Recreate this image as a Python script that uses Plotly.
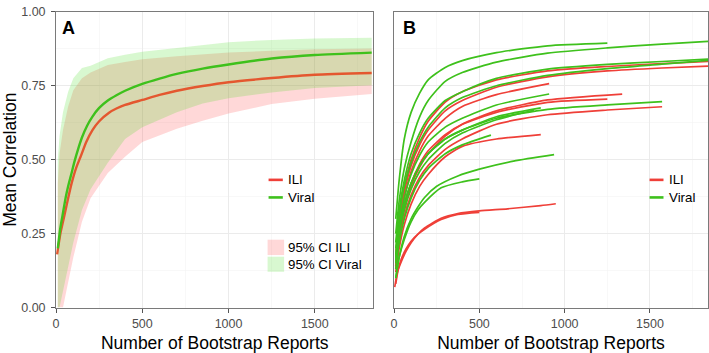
import plotly.graph_objects as go

# ---------------- Panel A data ----------------
a_viral_x = [10, 25, 40, 55, 70, 90, 105, 130, 150, 180, 210, 250, 300, 350, 400, 500, 600, 700, 850, 1000, 1250, 1500, 1830]
a_viral_mean = [0.20, 0.27, 0.32, 0.37, 0.41, 0.455, 0.49, 0.54, 0.575, 0.615, 0.645, 0.675, 0.70, 0.718, 0.733, 0.756, 0.774, 0.79, 0.808, 0.822, 0.842, 0.854, 0.862]
a_ili_x = [6, 25, 40, 55, 70, 90, 115, 144, 175, 211, 250, 307, 350, 400, 500, 600, 700, 850, 1000, 1250, 1500, 1830]
a_ili_mean = [0.18, 0.25, 0.29, 0.33, 0.37, 0.42, 0.47, 0.513, 0.56, 0.60, 0.63, 0.659, 0.673, 0.685, 0.702, 0.719, 0.733, 0.749, 0.762, 0.776, 0.787, 0.793]

a_ci_x = [10, 20, 40, 70, 100, 150, 200, 300, 400, 500, 700, 850, 1000, 1250, 1500, 1830]
a_ili_lo = [0.0, 0.0, 0.0, 0.08, 0.17, 0.29, 0.37, 0.455, 0.51, 0.56, 0.605, 0.632, 0.656, 0.688, 0.706, 0.722]
a_ili_hi = [0.42, 0.52, 0.60, 0.68, 0.735, 0.775, 0.795, 0.82, 0.83, 0.84, 0.85, 0.857, 0.862, 0.868, 0.873, 0.876]
a_viral_lo = [0.0, 0.0, 0.06, 0.14, 0.22, 0.33, 0.40, 0.49, 0.57, 0.61, 0.66, 0.69, 0.708, 0.727, 0.742, 0.752]
a_viral_hi = [0.50, 0.58, 0.66, 0.73, 0.775, 0.81, 0.818, 0.843, 0.855, 0.865, 0.878, 0.888, 0.897, 0.905, 0.91, 0.912]

# ---------------- Panel B data (one curve per season/region) ----------------
b_viral_1_x = [10, 30, 60, 100, 150, 200, 300, 400, 600, 900, 1250]
b_viral_1_y = [0.30, 0.43, 0.57, 0.66, 0.725, 0.77, 0.812, 0.835, 0.862, 0.885, 0.894]
b_viral_2_x = [10, 30, 60, 100, 150, 200, 300, 400, 600, 900, 1250, 1570, 1840]
b_viral_2_y = [0.25, 0.36, 0.47, 0.56, 0.645, 0.70, 0.765, 0.795, 0.83, 0.86, 0.878, 0.891, 0.90]
b_viral_3_x = [10, 30, 60, 100, 150, 200, 300, 400, 600, 900, 1250, 1570, 1840]
b_viral_3_y = [0.22, 0.33, 0.43, 0.52, 0.59, 0.64, 0.70, 0.73, 0.775, 0.806, 0.822, 0.832, 0.84]
b_viral_4_x = [10, 30, 60, 100, 150, 200, 300, 400, 600, 900, 1250, 1570, 1840]
b_viral_4_y = [0.20, 0.31, 0.41, 0.49, 0.56, 0.61, 0.675, 0.71, 0.75, 0.785, 0.808, 0.823, 0.836]
b_viral_5_x = [10, 30, 60, 100, 150, 200, 300, 400, 600, 909]
b_viral_5_y = [0.18, 0.28, 0.37, 0.45, 0.515, 0.56, 0.61, 0.64, 0.685, 0.722]
b_viral_6_x = [10, 30, 60, 100, 150, 200, 300, 400, 600, 900, 1250, 1571]
b_viral_6_y = [0.16, 0.26, 0.35, 0.42, 0.48, 0.52, 0.57, 0.60, 0.64, 0.67, 0.685, 0.696]
b_viral_7_x = [10, 30, 60, 100, 150, 200, 300, 400, 600, 860]
b_viral_7_y = [0.17, 0.27, 0.35, 0.42, 0.48, 0.52, 0.57, 0.60, 0.645, 0.675]
b_viral_8_x = [10, 30, 60, 100, 150, 200, 300, 400, 600, 820]
b_viral_8_y = [0.15, 0.25, 0.33, 0.40, 0.46, 0.50, 0.555, 0.59, 0.635, 0.668]
b_viral_9_x = [10, 30, 60, 100, 150, 200, 300, 400, 568]
b_viral_9_y = [0.13, 0.22, 0.30, 0.37, 0.43, 0.47, 0.52, 0.55, 0.583]
b_viral_10_x = [10, 30, 60, 100, 140, 179, 250, 374, 500, 700, 938]
b_viral_10_y = [0.10, 0.17, 0.24, 0.30, 0.34, 0.372, 0.41, 0.445, 0.468, 0.495, 0.517]
b_viral_11_x = [10, 30, 60, 100, 140, 179, 276, 400, 500]
b_viral_11_y = [0.10, 0.17, 0.23, 0.29, 0.33, 0.356, 0.405, 0.425, 0.435]

b_ili_1_x = [10, 30, 60, 100, 150, 200, 300, 400, 600, 900, 1250, 1570, 1840]
b_ili_1_y = [0.18, 0.30, 0.41, 0.50, 0.575, 0.63, 0.695, 0.73, 0.77, 0.80, 0.815, 0.825, 0.832]
b_ili_2_x = [10, 30, 60, 100, 150, 200, 300, 400, 600, 900, 1250, 1570, 1840]
b_ili_2_y = [0.17, 0.28, 0.39, 0.48, 0.55, 0.60, 0.665, 0.70, 0.745, 0.78, 0.80, 0.81, 0.816]
b_ili_3_x = [10, 30, 60, 100, 150, 200, 300, 400, 600, 909]
b_ili_3_y = [0.15, 0.26, 0.37, 0.46, 0.53, 0.58, 0.64, 0.68, 0.72, 0.757]
b_ili_4_x = [10, 30, 60, 100, 150, 200, 300, 400, 600, 900, 1337]
b_ili_4_y = [0.14, 0.24, 0.33, 0.41, 0.475, 0.52, 0.58, 0.62, 0.665, 0.702, 0.722]
b_ili_5_x = [10, 30, 60, 100, 150, 200, 300, 400, 600, 900, 1250]
b_ili_5_y = [0.15, 0.25, 0.34, 0.42, 0.485, 0.53, 0.585, 0.62, 0.66, 0.694, 0.705]
b_ili_6_x = [10, 30, 60, 100, 150, 200, 300, 400, 600, 900, 1250, 1571]
b_ili_6_y = [0.13, 0.22, 0.31, 0.38, 0.44, 0.48, 0.535, 0.57, 0.62, 0.652, 0.668, 0.679]
b_ili_7_x = [10, 30, 60, 100, 150, 200, 300, 400, 600, 860]
b_ili_7_y = [0.12, 0.20, 0.28, 0.35, 0.41, 0.45, 0.51, 0.545, 0.57, 0.585]
b_ili_8_x = [4, 20, 43, 70, 101, 140, 179, 276, 374, 500, 666, 860, 948]
b_ili_8_y = [0.069, 0.12, 0.156, 0.19, 0.22, 0.248, 0.269, 0.302, 0.318, 0.327, 0.334, 0.345, 0.351]
b_ili_9_x = [10, 25, 43, 70, 101, 140, 179, 276, 374, 500]
b_ili_9_y = [0.08, 0.13, 0.165, 0.198, 0.225, 0.248, 0.265, 0.298, 0.315, 0.322]

x_ticks = [0, 500, 1000, 1500]
y_ticks = [0.00, 0.25, 0.50, 0.75, 1.00]
y_tick_labels = ["0.00", "0.25", "0.50", "0.75", "1.00"]
x_title = "Number of Bootstrap Reports"
y_title = "Mean Correlation"

# ---------------- styling ----------------
RED = "#EF3F38"
RED_A = "#E4572F"
GREEN = "#3EC11C"
PINK_FILL = "rgba(255,60,60,0.2)"
GREEN_FILL = "rgba(60,220,20,0.2)"
FONT = "Liberation Sans, Arial, Helvetica, sans-serif"

fig = go.Figure()

# Panel A ribbons
fig.add_trace(go.Scatter(
    x=a_ci_x + a_ci_x[::-1], y=a_ili_hi + a_ili_lo[::-1],
    fill="toself", fillcolor=PINK_FILL, line=dict(width=0), mode="lines",
    hoverinfo="skip", showlegend=False, xaxis="x", yaxis="y"))
fig.add_trace(go.Scatter(
    x=a_ci_x + a_ci_x[::-1], y=a_viral_hi + a_viral_lo[::-1],
    fill="toself", fillcolor=GREEN_FILL, line=dict(width=0), mode="lines",
    hoverinfo="skip", showlegend=False, xaxis="x", yaxis="y"))
fig.add_trace(go.Scatter(x=a_ili_x, y=a_ili_mean, mode="lines",
                         line=dict(color=RED_A, width=2.4, shape="spline", smoothing=0.6),
                         showlegend=False, xaxis="x", yaxis="y"))
fig.add_trace(go.Scatter(x=a_viral_x, y=a_viral_mean, mode="lines",
                         line=dict(color=GREEN, width=2.4, shape="spline", smoothing=0.6),
                         showlegend=False, xaxis="x", yaxis="y"))

# Panel B curves
b_ili = [(b_ili_1_x, b_ili_1_y), (b_ili_2_x, b_ili_2_y), (b_ili_3_x, b_ili_3_y),
         (b_ili_4_x, b_ili_4_y), (b_ili_5_x, b_ili_5_y), (b_ili_6_x, b_ili_6_y),
         (b_ili_7_x, b_ili_7_y), (b_ili_8_x, b_ili_8_y), (b_ili_9_x, b_ili_9_y)]
b_viral = [(b_viral_1_x, b_viral_1_y), (b_viral_2_x, b_viral_2_y), (b_viral_3_x, b_viral_3_y),
           (b_viral_4_x, b_viral_4_y), (b_viral_5_x, b_viral_5_y), (b_viral_6_x, b_viral_6_y),
           (b_viral_7_x, b_viral_7_y), (b_viral_8_x, b_viral_8_y), (b_viral_9_x, b_viral_9_y),
           (b_viral_10_x, b_viral_10_y), (b_viral_11_x, b_viral_11_y)]
for bx, by in b_ili:
    fig.add_trace(go.Scatter(x=bx, y=by, mode="lines",
                             line=dict(color=RED, width=1.7, shape="spline", smoothing=0.6),
                             showlegend=False, xaxis="x2", yaxis="y2"))
for bx, by in b_viral:
    fig.add_trace(go.Scatter(x=bx, y=by, mode="lines",
                             line=dict(color=GREEN, width=1.7, shape="spline", smoothing=0.6),
                             showlegend=False, xaxis="x2", yaxis="y2"))

W, H = 709, 353
def px(x):
    return x / W
def py(y):
    return 1 - y / H

axis_common = dict(
    range=[0, 1840], showgrid=True, gridcolor="#EBEBEB", gridwidth=1,
    minor=dict(showgrid=True, gridcolor="#F3F3F3", gridwidth=0.6, dtick=250),
    zeroline=False, showline=True, mirror=True, linecolor="#7A7A7A", linewidth=1,
    tickvals=x_ticks, ticks="outside", ticklen=4, tickcolor="#555555",
    tickfont=dict(family=FONT, size=12.5, color="#4D4D4D"),
    ticklabeloverflow="allow",
)
yaxis_common = dict(
    range=[0, 1], showgrid=True, gridcolor="#EBEBEB", gridwidth=1,
    minor=dict(showgrid=True, gridcolor="#F3F3F3", gridwidth=0.6, dtick=0.125),
    zeroline=False, showline=True, mirror=True, linecolor="#7A7A7A", linewidth=1,
)

fig.update_layout(
    width=W, height=H, margin=dict(l=0, r=0, t=0, b=0),
    paper_bgcolor="white", plot_bgcolor="white",
    font=dict(family=FONT, color="black"),
    showlegend=False,
    xaxis=dict(domain=[px(53.3), px(372)], anchor="y",
               title=dict(text=x_title, font=dict(family=FONT, size=17.5, color="black"), standoff=7),
               **axis_common),
    xaxis2=dict(domain=[px(392.7), px(708)], anchor="y2",
                title=dict(text=x_title, font=dict(family=FONT, size=17.5, color="black"), standoff=7),
                **axis_common),
    yaxis=dict(domain=[1 - 313 / H, 1 - 5 / H], anchor="x",
               tickvals=y_ticks, ticktext=y_tick_labels, ticks="outside", ticklen=4,
               tickcolor="#555555", ticklabelstandoff=3, ticklabeloverflow="allow",
               tickfont=dict(family=FONT, size=12.5, color="#4D4D4D"),
               title=dict(text=y_title, font=dict(family=FONT, size=17.5, color="black"), standoff=7),
               **yaxis_common),
    yaxis2=dict(domain=[1 - 313 / H, 1 - 5 / H], anchor="x2",
                tickvals=y_ticks, showticklabels=False, ticks="",
                **yaxis_common),
)

# Panel letters
fig.add_annotation(x=px(66), y=py(21.5), xref="paper", yref="paper", text="<b>A</b>",
                   showarrow=False, xanchor="center", yanchor="middle",
                   font=dict(family=FONT, size=18, color="black"))
fig.add_annotation(x=px(408.3), y=py(21.5), xref="paper", yref="paper", text="<b>B</b>",
                   showarrow=False, xanchor="center", yanchor="middle",
                   font=dict(family=FONT, size=18, color="black"))

# Legends (keys + text)
def legend_line(x0, x1, y, color, label, tx):
    fig.add_shape(type="line", xref="paper", yref="paper", x0=px(x0), x1=px(x1),
                  y0=py(y), y1=py(y), line=dict(color=color, width=2.6))
    fig.add_annotation(x=px(tx), y=py(y), xref="paper", yref="paper", text=label,
                       showarrow=False, xanchor="left", yanchor="middle",
                       font=dict(family=FONT, size=13.3, color="black"))

def legend_box(x0, x1, y0, y1, color, label, tx):
    fig.add_shape(type="rect", xref="paper", yref="paper", x0=px(x0), x1=px(x1),
                  y0=py(y0), y1=py(y1), line=dict(width=0), fillcolor=color)
    fig.add_annotation(x=px(tx), y=py((y0 + y1) / 2), xref="paper", yref="paper", text=label,
                       showarrow=False, xanchor="left", yanchor="middle",
                       font=dict(family=FONT, size=13.3, color="black"))

legend_line(266.7, 281, 180, RED, "ILI", 284)
legend_line(266.7, 281, 198.3, GREEN, "Viral", 284)
legend_box(265.7, 282.3, 242.3, 258.3, PINK_FILL, "95% CI ILI", 284)
legend_box(265.7, 282.3, 260, 275.7, GREEN_FILL, "95% CI Viral", 284)
legend_line(649.3, 663.3, 180, RED, "ILI", 666.5)
legend_line(649.3, 663.3, 198.3, GREEN, "Viral", 666.5)

fig.write_html("out.html",
               config={"displayModeBar": False, "staticPlot": True},
               post_script="document.body.style.margin='0px';document.body.style.overflow='hidden';")
